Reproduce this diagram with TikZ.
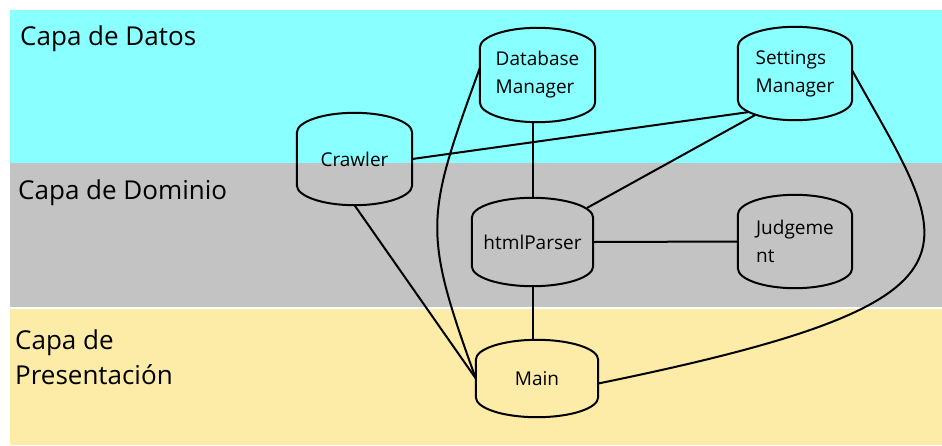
\documentclass[tikz,border=0pt]{standalone}
\usepackage{fontspec}
\setmainfont{Open Sans}
\usetikzlibrary{calc,positioning}
\definecolor{datos}{RGB}{138,255,255}
\definecolor{dominio}{RGB}{195,195,195}
\definecolor{presentacion}{RGB}{253,235,168}
\tikzset{
    %Define style for layer labels
    capa/.style={
           anchor=west,
           inner sep=0pt,
           align=left,
           font=\fontsize{26}{35}\selectfont},
    %Define style for storage boxes
    store/.style={
           rectangle,
           minimum width=115pt,
           minimum height=92pt,
           inner sep=0pt,
           align=left,
           font=\fontsize{19}{28}\selectfont},
    %Define style for outlines
    rim/.style={
           line width=2pt},
    % Define line style
    lnk/.style={
           line width=2pt}
}
\begin{document}
\begin{tikzpicture}[x=1pt,y=-1pt]
\useasboundingbox (0,0) rectangle (942,445);
 %layers
\fill[datos] (10,10) rectangle (942,163);
\fill[dominio] (10,163) rectangle (942,307);
\fill[presentacion] (10,309) rectangle (942,445);
\node[capa] (ldatos) at (20,39) {Capa de Datos};
\node[capa] (ldominio) at (18,193) {Capa de Dominio};
\node[capa] (lpresent) at (15,357) {Capa de\\Presentación};
 %nodes
\node[store] (crawler) at (354.5,159) {Crawler};
\node[store, minimum height=94pt] (dbm) at (537.5,75) {Database\\Manager};
\node[store, minimum width=114pt, minimum height=93pt] (settings) at (795,73.5) {Settings\\Manager};
\node[store, minimum width=114pt, minimum height=93pt] (judge) at (795,241.5) {Judgeme\\nt};
\node[store, minimum width=121pt, minimum height=88pt] (parser) at (532.5,242) {htmlParser};
\node[store, minimum width=122pt, minimum height=77pt] (main) at (537,378.5) {Main};
 %outlines
\foreach \nm in {crawler,dbm,settings,judge,parser,main}
  \draw[rim] let \p1=(\nm.north west), \p2=(\nm.south east) in
    (\x1,{\y1-20pt}) arc[start angle=180, end angle=0, x radius={(\x2-\x1)/2}, y radius=20pt]
    -- (\x2,{\y2+20pt}) arc[start angle=0, end angle=-180, x radius={(\x2-\x1)/2}, y radius=20pt]
    -- cycle;
 %links
\path[lnk]
    (crawler.east) edge ([xshift=10pt,yshift=8pt]settings.south west)
    (dbm.south -| parser.north) edge (parser.north)
    ([xshift=17pt,yshift=5pt]settings.south west) edge ([xshift=-6pt,yshift=-10pt]parser.north east)
    (parser.east) edge (judge.west)
    (parser.south) edge (parser.south |- main.north)
    (crawler.south) edge (main.west);
\draw[lnk] ([yshift=7pt]dbm.west) .. controls +(-54,149) and +(-54,-149) .. (main.west);
\draw[lnk] ([yshift=3pt]settings.east) .. controls +(100,180) and +(411,-84) .. ([yshift=-5pt]main.east);
\end{tikzpicture}
\end{document}
